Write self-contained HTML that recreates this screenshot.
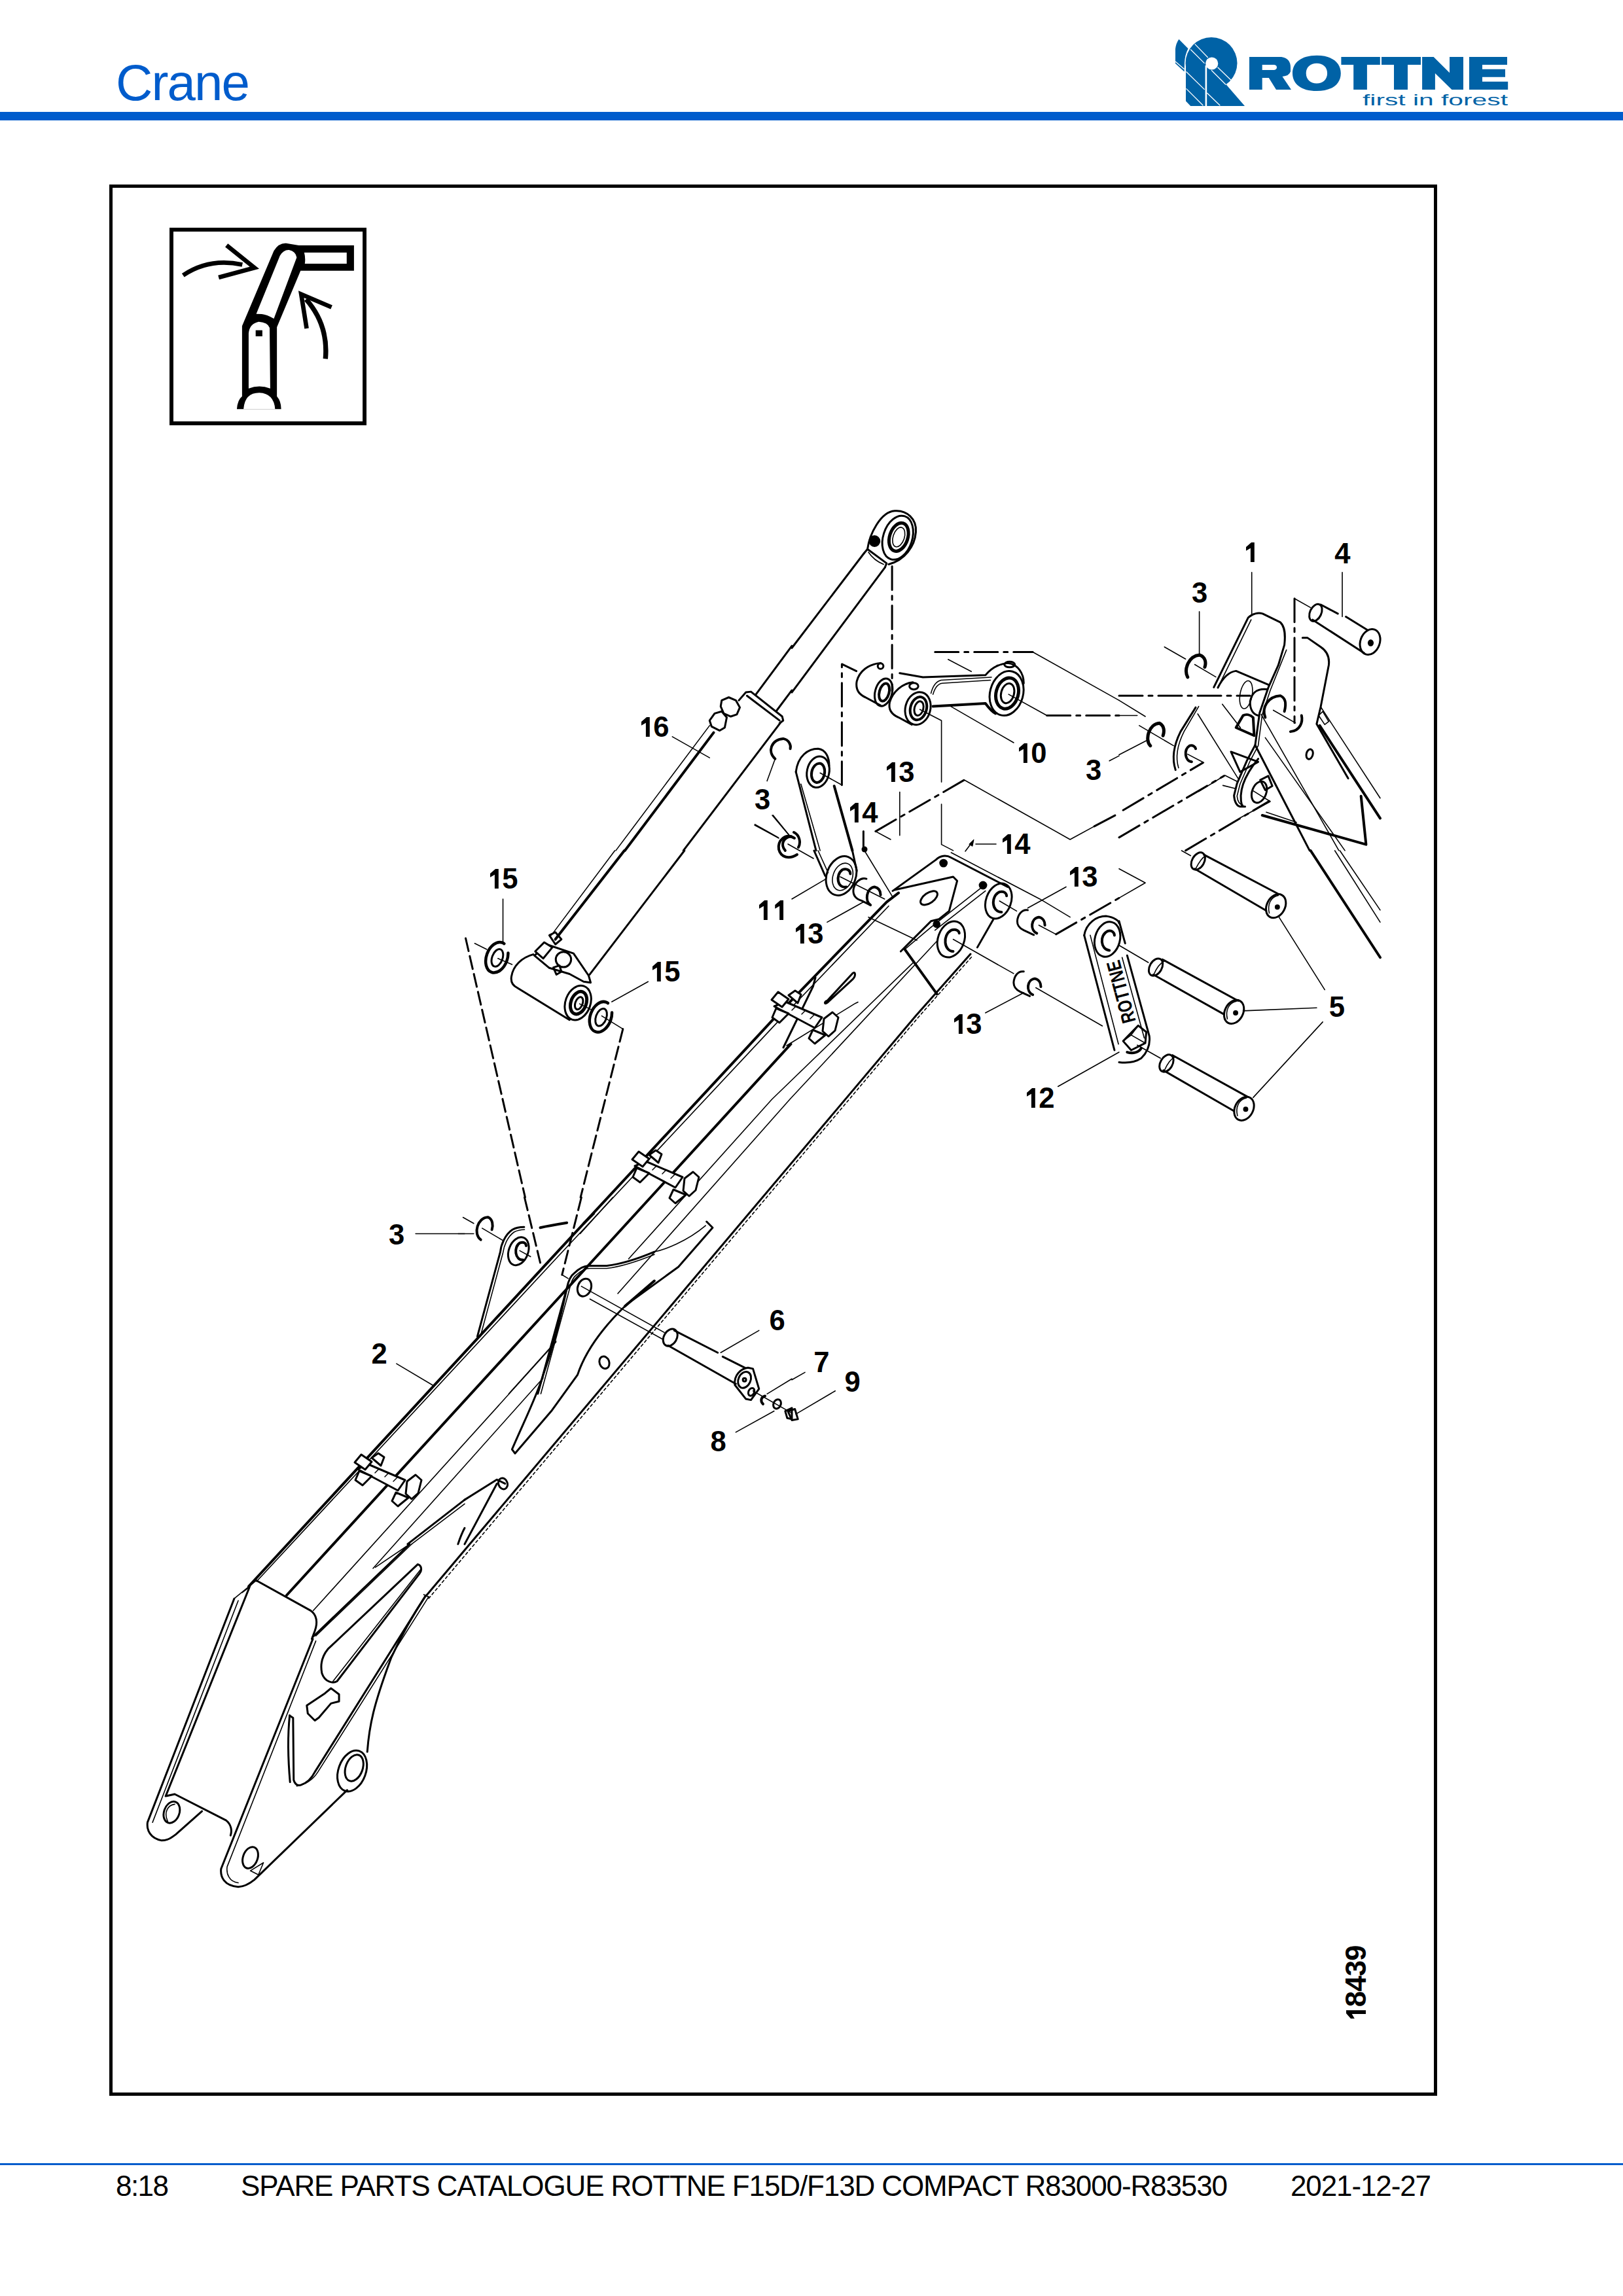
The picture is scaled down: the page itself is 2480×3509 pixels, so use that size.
<!DOCTYPE html>
<html><head><meta charset="utf-8">
<style>
html,body{margin:0;padding:0;background:#fff;}
body{width:2480px;height:3509px;overflow:hidden;position:relative;}
svg{position:absolute;left:0;top:0;}
#drawing *{vector-effect:non-scaling-stroke;}
.t{stroke-width:1.6px}.k{stroke-width:4px}.d{stroke-dasharray:36 9 6 9}.ds{stroke-dasharray:20 8}
</style></head>
<body>
<svg width="2480" height="3509" viewBox="0 0 2480 3509" font-family="Liberation Sans, sans-serif">
<defs>
<g id="clamp" fill="#fff" stroke="#000" stroke-width="3" stroke-linejoin="round">
<path d="M-30,-25 L26,-1 L15,15 L-47,-18 Z"/>
<path d="M-51,-28 L-41,-40 L-25,-29 L-35,-17 Z"/>
<path d="M-25,-35 L-15,-42 L-6,-36 L-11,-23 Z"/>
<path d="M-50,-1 L-44,-15 L-25,-7 L-39,7 Z"/>
<path d="M29,1 L42,-9 L51,-1 L46,19 L36,28 L27,20 Z"/>
<path d="M6,31 L12,18 L31,26 L15,39 Z"/>
<path d="M-20,-12 L-14,-18 M-5,-6 L1,-12 M8,1 L14,-5" stroke-width="1.5"/>
</g>
</defs>
<!-- header -->
<text x="177" y="153" font-size="78" fill="#005ccc" textLength="205" lengthAdjust="spacing">Crane</text>
<rect x="0" y="171" width="2480" height="13" fill="#005ccc"/>
<!-- logo -->
<g id="logo" fill="#0062a6">
<path d="M1801.4,60 L1815.5,74.3 Q1810.5,84 1810,96 L1809.6,109.5 L1796,96.9 L1796,74.8 Q1797,66 1801.4,60 Z"/>
<circle cx="1851" cy="96.5" r="39.5"/>
<path d="M1812,96 L1812,154.6 L1819.2,162 L1902,162 L1873.2,128.7 L1851,96 Z"/>
<circle cx="1851.7" cy="97" r="9.6" fill="#fff"/>
<rect x="1841.6" y="100" width="2.6" height="63" fill="#fff"/>
<g stroke="#fff" stroke-width="1.3">
<line x1="1825.8" y1="67.4" x2="1845.8" y2="88"/>
<line x1="1819.2" y1="75.5" x2="1840.6" y2="96.9"/>
<line x1="1860.6" y1="102.8" x2="1881.3" y2="122.8"/>
<line x1="1851" y1="107.3" x2="1873.2" y2="129.5"/>
<line x1="1796" y1="94" x2="1809.6" y2="105.8"/>
<line x1="1812.5" y1="109.5" x2="1840.6" y2="136.9"/>
<line x1="1812.5" y1="135.4" x2="1838.4" y2="161.3"/>
<line x1="1844.3" y1="142" x2="1864.3" y2="161.3"/>
</g>
<path d="M1909,87 L1958,87 Q1972,89 1972,103 L1972,109.3 Q1970,116 1959.5,117 L1973,137 L1950,137 L1938.8,119 L1928.7,119 L1928.7,137 L1909,137 Z M1928.7,99 L1928.7,107.1 L1947,107.1 Q1951,106 1951,103 Q1951,99.5 1947,99 Z" fill-rule="evenodd"/>
<path d="M2012,84.7 C2036,84.7 2048.8,96 2048.8,111.9 C2048.8,128 2036,139 2012,139 C1988,139 1975,128 1975,111.9 C1975,96 1988,84.7 2012,84.7 Z M2012,96.7 C2003,96.7 1995.7,102 1995.7,112 C1995.7,122 2003,127.4 2012,127.4 C2021,127.4 2028.1,122 2028.1,112 C2028.1,102 2021,96.7 2012,96.7 Z" fill-rule="evenodd"/>
<path d="M2049.4,87 L2108.8,87 L2108.8,99 L2088.9,99 L2088.9,137 L2068.2,137 L2068.2,99 L2049.4,99 Z"/>
<path d="M2111,87 L2171,87 L2171,99 L2151,99 L2151,137 L2130,137 L2130,99 L2111,99 Z"/>
<path d="M2173.1,87 L2190.6,87 L2215,111.2 L2215,87 L2236,87 L2236,137 L2218.4,137 L2192.9,111.9 L2192.9,137 L2173.1,137 Z"/>
<path d="M2245,87 L2303,87 L2303,99 L2265,99 L2265,105.8 L2300,105.8 L2300,117.7 L2265,117.7 L2265,124.8 L2304.2,124.8 L2304.2,137 L2245,137 Z"/>
<text x="2082" y="161" font-size="24" textLength="222" lengthAdjust="spacingAndGlyphs">first in forest</text>
</g>
<!-- frame -->
<rect x="169.5" y="284.5" width="2024" height="2916" fill="none" stroke="#000" stroke-width="5"/>
<!-- icon -->
<g id="icon" transform="translate(259,348) scale(0.18546)">
<rect x="16" y="16" width="1591" height="1596" fill="none" stroke="#000" stroke-width="32"/>
<path d="M598,810 L860,190 Q900,125 960,128 L1065,145 L1520,145 L1520,355 L1080,355 L885,820 L885,1390 Q920,1430 920,1495 L555,1495 Q560,1420 598,1390 Z" fill="#000"/>
<path d="M715,710 L910,230 Q940,180 985,183 Q1040,195 1048,245 L860,750 Q800,715 760,712 Z" fill="#fff"/>
<path d="M1110,205 L1460,205 L1460,297 L1115,297 Q1122,250 1110,205 Z" fill="#fff"/>
<path d="M652,870 Q660,790 735,775 Q810,780 825,825 L830,1325 Q740,1290 652,1325 Z" fill="#fff"/>
<path d="M610,1495 Q620,1360 740,1360 Q860,1365 870,1495 Z" fill="#fff"/>
<rect x="710" y="845" width="55" height="50" fill="#000"/>
<path d="M112,392 Q330,245 600,305" fill="none" stroke="#000" stroke-width="36"/>
<path d="M470,145 L700,330 L405,410" fill="none" stroke="#000" stroke-width="36" stroke-linejoin="miter"/>
<path d="M1285,1080 Q1310,800 1125,590" fill="none" stroke="#000" stroke-width="40"/>
<path d="M1130,830 L1085,548 L1335,655" fill="none" stroke="#000" stroke-width="36" stroke-linejoin="miter"/>
</g>
<!-- drawing -->
<g id="drawing" fill="none" stroke="#000" stroke-width="3" stroke-linecap="round" stroke-linejoin="round">
<!-- R1C2 -->
<g transform="translate(1210,770) scale(0.30807)">
<path d="M0,715 L358,245"/><path d="M0,935 L462,315"/>
<path d="M358,245 L375,225 L470,295 L462,315"/>
<path class="t" d="M380,240 C400,270 430,290 455,300"/>
<path d="M375,225 C385,150 440,40 510,35 C570,30 620,75 615,140 C610,210 560,280 480,300"/>
<ellipse cx="525" cy="168" rx="72" ry="112" transform="rotate(18 525 168)"/>
<ellipse cx="530" cy="165" rx="45" ry="72" transform="rotate(18 530 165)" class="k" style="stroke-width:5px"/>
<ellipse cx="530" cy="165" rx="28" ry="50" transform="rotate(18 530 165)" class="t"/>
<circle cx="410" cy="185" r="24" fill="#000"/>
<path class="d" d="M497,310 L497,930"/>
<path d="M440,790 C380,795 335,830 322,880 C315,920 330,945 365,960 L440,1000"/>
<ellipse cx="455" cy="935" rx="42" ry="70" transform="rotate(15 455 935)"/>
<ellipse cx="458" cy="935" rx="24" ry="45" transform="rotate(15 458 935)" class="k"/>
<circle cx="440" cy="805" r="14"/>
<path d="M600,885 C550,890 500,930 485,985 C478,1020 495,1045 530,1060 L595,1095"/>
<ellipse cx="625" cy="1015" rx="62" ry="82" transform="rotate(15 625 1015)"/>
<ellipse cx="628" cy="1015" rx="40" ry="58" transform="rotate(15 628 1015)" class="k"/>
<ellipse cx="630" cy="1015" rx="22" ry="36" transform="rotate(15 630 1015)"/>
<ellipse cx="605" cy="905" rx="22" ry="16"/>
<path d="M535,840 L650,860 L960,850 C985,820 1020,795 1070,790 C1120,795 1150,840 1150,890"/>
<path class="t" d="M690,940 C700,900 720,880 740,875 L990,860"/><path class="t" d="M700,945 C710,910 725,893 745,890 L985,875"/>
<path class="k" d="M700,1005 L960,990 C975,1010 990,1030 1010,1040"/>
<ellipse cx="1065" cy="940" rx="82" ry="112" transform="rotate(15 1065 940)"/>
<ellipse cx="1068" cy="940" rx="55" ry="78" transform="rotate(15 1068 940)" class="k" style="stroke-width:5px"/>
<ellipse cx="1070" cy="940" rx="32" ry="50" transform="rotate(15 1070 940)"/>
<ellipse cx="1080" cy="797" rx="26" ry="14"/>
<path class="d" d="M710,735 L1195,735"/><path class="t" d="M1195,735 L1623,975"/>
<path class="t" d="M775,772 L890,832"/>
<path class="t" d="M1075,945 L1265,1050"/><path class="d" d="M1265,1050 L1623,1050"/>
<path class="t" d="M635,1020 L742,1075 L742,1380"/><path class="t" d="M742,1490 L742,1690 L800,1720"/>
<path class="d" d="M248,1395 L248,795 L320,830"/><path class="t" d="M248,1395 L140,1335"/>
<path class="d" d="M415,1625 L855,1370"/><path class="t" d="M855,1370 L1380,1665 L1500,1600"/><path class="d" d="M1500,1600 L1623,1535"/>
<path class="t" d="M415,1625 L490,1665"/>
<path class="t" d="M780,1000 L1100,1185"/>
<path class="t" d="M535,1430 L535,1645"/>
<path class="t" d="M1575,1275 L1623,1250"/>
<path class="d" d="M355,1625 L355,1720"/>
<path d="M20,1330 C30,1250 80,1215 130,1215 C170,1220 185,1260 185,1300"/>
<ellipse cx="130" cy="1330" rx="55" ry="78" transform="rotate(12 130 1330)"/>
<ellipse cx="130" cy="1335" rx="32" ry="48" transform="rotate(12 130 1335)" class="k"/>
<path d="M20,1330 L120,1720"/><path class="t" d="M45,1390 L140,1720"/>
<path class="k" d="M210,1400 L300,1720"/>
</g>
<!-- R1C3 -->
<g transform="translate(1710,770) scale(0.30807)">
<path d="M280,1320 C260,1260 275,1190 305,1130 L380,1010"/><path class="t" d="M295,1310 C278,1255 292,1190 322,1130 L395,1005"/>
<path class="k" d="M360,1280 C325,1275 320,1220 350,1200 C365,1195 378,1205 380,1215"/>

<path class="t" d="M658,340 L658,555"/><path class="t" d="M1107,340 L1107,560"/><path class="t" d="M398,535 L398,755"/>
<path d="M470,910 L640,565 C660,545 690,538 712,545 L800,588 C822,610 826,645 820,700 L790,800 L740,912 L697,1037 L675,1197 L635,1272 L585,1387 L570,1447 C572,1480 585,1500 600,1502 L625,1502"/>
<path class="t" d="M490,912 L655,575"/><path class="t" d="M830,725 L750,925 L710,1045 L690,1200 L650,1275 L600,1390 L585,1450 C588,1478 598,1492 615,1495"/>
<path d="M490,912 C515,862 545,834 580,829 L740,897"/>
<ellipse cx="630" cy="947" rx="30" ry="70" transform="rotate(10 630 947)" class="t"/>
<path d="M650,980 C660,930 690,915 735,920 M650,980 C648,1020 665,1045 690,1050"/>
<path d="M580,1110 L615,1050 C630,1042 650,1045 665,1060 L670,1150 Z" class="k"/>
<path d="M555,1230 L690,1280 L600,1330 Z"/>
<path d="M910,665 L935,665 L1000,710 C1030,730 1045,760 1040,800 L1000,1007 L980,1092 L1136,1362"/>
<path class="t" d="M1000,1007 L1295,1460"/><path class="k" d="M995,1100 L1295,1560"/>
<path class="t" d="M1010,1030 L1040,1080 L1020,1095 L990,1050 Z"/>
<path d="M675,1197 L945,1720"/><path class="t" d="M705,1045 L1090,1720"/><path class="t" d="M725,1160 L1120,1720"/>
<path class="k" d="M710,1545 L1225,1690 L1200,1450"/><path class="t" d="M730,1530 L880,1580"/>
<path d="M610,1500 C590,1430 620,1350 690,1265"/>
<ellipse cx="695" cy="1430" rx="35" ry="55" transform="rotate(20 695 1430)"/>
<path d="M700,1370 L740,1350 L760,1400 L725,1420 Z"/>
<path class="k" style="stroke-width:5px" d="M340,860 C320,820 345,755 400,750 C430,760 432,790 425,810"/>
<path class="k" d="M725,1060 C705,1010 740,955 800,952 C830,965 828,1000 820,1030"/>
<path class="k" d="M850,1130 C900,1125 912,1080 905,1050"/>
<path class="k" style="stroke-width:5px" d="M155,1200 C125,1170 150,1090 200,1088 C225,1100 225,1130 218,1150"/>
<path class="d" d="M0,952 L650,952"/><path class="d" d="M870,470 L870,1087"/><path class="t" d="M870,470 L950,515"/>
<path class="t" d="M225,710 L330,770"/><path class="t" d="M375,797 L480,859"/><path class="t" d="M765,1024 L875,1087"/>
<path class="t" d="M0,975 L130,1055"/><path class="t" d="M0,1050 L90,1050"/><path class="t" d="M100,1100 L270,1200"/>
<path class="t" d="M390,1042 L590,1362"/><path class="t" d="M512,994 L602,1111"/>
<path class="t" d="M0,1245 L135,1175"/><path class="t" d="M340,1242 L420,1284"/>
<path class="t" d="M395,1427 L525,1347 L585,1377"/><path class="t" d="M515,1397 L575,1412"/>
<path class="d" d="M20,1520 L415,1285"/><path class="d" d="M0,1655 L520,1350"/><path class="d" d="M330,1720 L745,1475"/>
<path class="t" d="M600,1558 L750,1477 L665,1424"/>
<ellipse cx="945" cy="1242" rx="16" ry="25" transform="rotate(15 945 1242)"/>
<path d="M1000,500 L1085,545 M1125,560 L1230,625 M960,575 L1215,740"/>
<ellipse cx="975" cy="540" rx="28" ry="45" transform="rotate(25 975 540)"/>
<ellipse cx="1245" cy="685" rx="48" ry="65" transform="rotate(20 1245 685)"/>
<ellipse cx="1248" cy="690" rx="10" ry="12" fill="#000"/>
</g>
<!-- R2C1 -->
<g transform="translate(710,1300) scale(0.30807)">
<path class="t" d="M745,0 L430,420"/><path class="k" d="M792,0 L450,440"/>
<path d="M1090,0 L620,615"/>
<path d="M340,515 C285,530 240,570 232,625 C228,650 236,668 260,680 L520,840"/>
<ellipse cx="562" cy="755" rx="62" ry="88" transform="rotate(20 562 755)"/>
<ellipse cx="565" cy="755" rx="38" ry="58" transform="rotate(20 565 755)" class="k" style="stroke-width:5px"/>
<ellipse cx="567" cy="757" rx="18" ry="32" transform="rotate(20 567 757)"/>
<path d="M345,520 L420,470 L540,510 L615,620 L625,655 L590,650 L520,612 L420,582 Z" fill="#fff"/>
<circle cx="490" cy="540" r="38"/>
<path d="M350,500 L395,455 L435,480 L390,535 Z" fill="#fff"/><path d="M420,420 L450,405 L480,440 L450,465 Z"/><path d="M440,580 L470,570 L480,600 L455,615 Z"/>
<ellipse cx="160" cy="530" rx="52" ry="78" transform="rotate(20 160 530)" class="k" style="stroke-width:4.5px;stroke-dasharray:112 16;stroke-dashoffset:14"/>
<ellipse cx="162" cy="532" rx="26" ry="45" transform="rotate(20 162 532)"/>
<ellipse cx="675" cy="825" rx="52" ry="78" transform="rotate(20 675 825)" class="k" style="stroke-width:4.5px;stroke-dasharray:112 16;stroke-dashoffset:14"/>
<ellipse cx="677" cy="827" rx="26" ry="45" transform="rotate(20 677 827)"/>
<path class="t" d="M50,460 L110,490"/><path class="t" d="M165,535 L235,565"/><path class="t" d="M570,760 L630,790"/><path class="t" d="M680,820 L785,885"/>
<path class="t" d="M190,240 L190,455"/><path class="t" d="M910,650 L730,750"/>
<path class="ds" d="M5,435 L300,1720"/><path class="ds" d="M785,885 L575,1720"/>




</g>


<!-- R2C2 -->
<g transform="translate(1210,1300) scale(0.30807)">
<ellipse cx="245" cy="125" rx="72" ry="100" transform="rotate(20 245 125)"/>
<ellipse cx="252" cy="130" rx="48" ry="70" transform="rotate(20 252 130)" class="t"/>
<path class="k" d="M270,180 C225,190 215,120 250,95 C275,85 290,100 290,115"/>
<path d="M110,0 L165,125"/><path class="t" d="M130,0 L180,110"/><path d="M300,0 L322,100"/>
<path d="M370,140 C340,130 310,160 305,195 C303,222 320,240 345,248 L385,268"/>
<path class="k" d="M390,270 C360,250 370,185 410,180 C432,185 440,200 440,220"/>
<path class="t" d="M0,240 L170,140"/><path class="t" d="M175,355 L355,255"/>
<path class="t" d="M360,0 L500,230"/>
<path class="t" d="M240,130 L460,240"/>
<path d="M500,200 L715,45 C735,25 765,20 790,35 L1070,180"/><path class="t" d="M790,10 L1230,240 L1380,330"/>
<path d="M510,195 L800,130 L820,150 L780,300 L730,340 L690,350 L540,500"/>
<ellipse cx="680" cy="235" rx="48" ry="25" transform="rotate(-35 680 235)"/>
<circle cx="752" cy="62" r="16" fill="#000"/><circle cx="948" cy="172" r="16" fill="#000"/><circle cx="718" cy="365" r="14" fill="#000"/>
<ellipse cx="790" cy="440" rx="65" ry="92" transform="rotate(20 790 440)"/>
<path class="k" d="M800,500 C755,500 745,420 790,395 C815,385 830,400 830,410"/>
<ellipse cx="1025" cy="250" rx="62" ry="90" transform="rotate(20 1025 250)"/>
<path class="k" d="M1040,305 C990,305 985,225 1030,205 C1055,198 1065,215 1065,225"/>
<path class="t" d="M690,380 L945,180"/><path class="t" d="M710,395 L960,200"/>
<path d="M920,480 L1000,340"/>

<path class="t" d="M380,330 L620,445"/>
<path class="k" d="M560,490 L720,712"/><path class="t" d="M560,490 L690,380"/>


<path d="M175,745 L300,610 C315,595 320,620 300,640 L175,755 C160,765 160,750 175,745 Z" transform="rotate(0)"/>

<path d="M1170,295 C1140,290 1120,320 1118,350 C1117,372 1130,385 1150,395 L1200,418"/>
<path class="k" d="M1215,410 C1180,395 1185,335 1225,330 C1248,335 1255,355 1255,370"/>
<path d="M1150,600 C1120,595 1102,625 1100,655 C1100,677 1112,690 1132,700 L1180,722"/>
<path class="k" d="M1195,715 C1160,700 1165,640 1205,635 C1228,640 1235,660 1235,675"/>
<path class="t" d="M800,440 L1100,610"/><path class="t" d="M1210,680 L1540,870"/>
<path class="t" d="M1030,250 L1115,300"/><path class="t" d="M1225,370 L1310,415"/><path class="d" d="M1310,415 L1623,235"/>
<path class="t" d="M1170,285 L1360,180"/><path class="t" d="M960,805 L1150,705"/><path class="t" d="M1320,1170 L1623,1000"/>
<path d="M1450,420 C1460,360 1510,325 1560,325 C1600,330 1623,350 1623,360"/>
<path d="M1450,420 L1600,990"/><path class="t" d="M1480,420 L1620,960"/>
<ellipse cx="1565" cy="440" rx="62" ry="88" transform="rotate(15 1565 440)"/>
<path class="k" d="M1575,495 C1530,490 1525,420 1565,400 C1590,392 1600,410 1600,420"/>
</g>
<!-- R2C3 -->
<g transform="translate(1710,1300) scale(0.30807)">
<path d="M420,20 L790,215 M375,90 L730,298"/>
<ellipse cx="392" cy="52" rx="30" ry="46" transform="rotate(30 392 52)"/>
<path class="t" d="M380,90 C395,60 410,35 430,25"/>
<ellipse cx="778" cy="275" rx="45" ry="62" transform="rotate(28 778 275)"/>
<path class="t" d="M745,310 C735,270 750,230 790,222"/>
<circle cx="785" cy="280" r="8" fill="#000"/>
<path d="M215,540 L590,745 M170,615 L520,812"/>
<ellipse cx="182" cy="578" rx="30" ry="46" transform="rotate(30 182 578)"/>
<path class="t" d="M172,615 C185,585 200,560 225,548"/>
<ellipse cx="570" cy="800" rx="45" ry="62" transform="rotate(28 570 800)"/>
<path class="t" d="M537,835 C527,795 542,755 582,747"/>
<circle cx="578" cy="805" r="8" fill="#000"/>
<path d="M265,1015 L635,1220 M220,1090 L570,1292"/>
<ellipse cx="235" cy="1055" rx="30" ry="46" transform="rotate(30 235 1055)"/>
<path class="t" d="M225,1090 C238,1060 252,1035 277,1023"/>
<ellipse cx="620" cy="1280" rx="45" ry="62" transform="rotate(28 620 1280)"/>
<path class="t" d="M587,1315 C577,1275 592,1235 632,1227"/>
<circle cx="628" cy="1283" r="8" fill="#000"/>
<path class="t" d="M790,325 L1020,690"/><path class="t" d="M615,795 L980,780"/><path class="t" d="M665,1225 L1010,850"/>
<path d="M0,350 L30,460"/><path d="M40,520 L150,920 C155,960 140,1000 110,1030 C80,1050 40,1055 0,1050"/>
<path class="t" d="M15,530 L125,930"/>
<path d="M20,945 L95,868 L135,900 L130,955 L60,990 Z"/><path class="t" d="M20,945 L60,990 M95,868 L60,915 L20,945 M60,915 L130,955"/>
<path class="k" d="M40,1000 C70,1010 100,1000 110,980"/>
<path class="t" d="M0,470 L145,555"/><path class="t" d="M90,965 L205,1030"/><path class="t" d="M310,0 L355,25"/>
<path class="t" d="M0,90 L130,160 L0,235"/>
<path class="k" d="M950,0 L1295,530"/><path class="t" d="M1070,0 L1295,355"/><path class="t" d="M1095,0 L1295,295"/>

</g>
<text transform="translate(1713,1516) rotate(-105)" text-anchor="middle" dominant-baseline="central" font-size="30" font-weight="bold" fill="#000" stroke="none" textLength="98" lengthAdjust="spacingAndGlyphs">ROTTNE</text>
<!-- R3C1 -->
<g transform="translate(710,1830) scale(0.30807)">
<path d="M63,690 L177,270 C180,235 200,185 237,160 C255,150 275,147 295,147"/>
<path class="t" d="M78,690 L190,275 C195,240 212,195 245,172 C262,163 280,160 297,160"/>
<ellipse cx="267" cy="267" rx="48" ry="72" transform="rotate(20 267 267)"/>
<path class="k" d="M290,310 C250,315 240,245 275,225 C295,218 305,230 305,240"/>


<path d="M363,974 L507,450 C515,410 530,385 545,375 C570,350 590,340 615,339 L705,339 C790,330 870,300 941,270"/>
<path class="t" d="M378,974 L520,455 C528,415 543,392 556,383 C578,362 598,352 620,352 L705,352 C790,342 870,312 941,283"/>
<ellipse cx="594" cy="447" rx="33" ry="45" transform="rotate(20 594 447)"/>
<path class="t" d="M579,441 L990,670"/><path class="t" d="M621,504 L985,705"/>
<path class="k" d="M795,540 L941,414"/>

<path class="t" d="M219,974 L453,714"/>
<ellipse cx="693" cy="819" rx="24" ry="31" transform="rotate(-20 693 819)"/>
<path class="ds" d="M297,0 L375,324"/><path class="ds" d="M579,0 L483,384"/><path class="t" d="M483,384 L513,402"/>
<path class="k" d="M375,150 C420,140 470,132 507,126"/>
<path class="t" d="M573,180 L735,0"/><path class="k" d="M590,130 L640,80"/>
<path class="k" d="M80,210 C40,180 65,100 115,98 C140,108 142,140 135,160"/>
<path class="t" d="M-32,180 L45,180"/><path class="t" d="M-8,99 L45,129"/><path class="t" d="M87,153 L189,213"/><path class="t" d="M273,264 L327,294"/>
<path d="M1200,120 L1230,150 L1060,345 L805,530 C690,640 600,760 560,880 L430,1060 L250,1270 L235,1250 C300,1100 360,980 390,880 C440,740 470,620 507,450"/>
<path class="t" d="M1195,140 C1100,220 990,260 940,270"/>



<path d="M0,1500 L160,1400 L200,1420"/><path d="M0,1720 L160,1420"/>
<ellipse cx="190" cy="1420" rx="22" ry="28" transform="rotate(-20 190 1420)"/>
<path d="M1040,660 L1255,770 M1280,790 L1390,845 M1010,735 L1345,925"/>
<ellipse cx="1020" cy="695" rx="32" ry="45" transform="rotate(30 1020 695)"/>
<path d="M1340,930 C1335,880 1370,850 1405,845 L1430,850 L1460,950 L1420,1005 L1395,1000 Z"/>
<ellipse cx="1388" cy="905" rx="30" ry="42" transform="rotate(25 1388 905)"/><circle cx="1388" cy="905" r="8"/>
<ellipse cx="1422" cy="965" rx="14" ry="20" transform="rotate(25 1422 965)"/>
<path class="t" d="M1270,770 L1460,660"/><path class="t" d="M1345,1165 L1535,1060"/><path class="t" d="M1500,975 L1623,900"/>
<path class="k" d="M1480,1025 C1465,1010 1470,990 1490,985"/>
<ellipse cx="1550" cy="1025" rx="18" ry="24" transform="rotate(25 1550 1025)"/>
<path d="M1590,1060 L1623,1045 L1623,1100 L1600,1095 Z"/>
<path class="t" d="M1430,960 L1623,1070"/>
</g>
<!-- R3C0 -->
<g transform="translate(210,1830) scale(0.30807)">
<path class="t" d="M1380,180 L1623,180"/><path class="t" d="M1285,825 L1470,935"/>



<path d="M1340,1720 L1623,1500"/><path class="t" d="M1360,1720 L1623,1520"/>
<path d="M1590,1720 C1600,1690 1612,1660 1623,1640"/>
</g>

<!-- R3C2 -->
<g transform="translate(1210,1830) scale(0.30807)">
<path class="t" d="M0,905 L65,868"/><path class="t" d="M20,1075 L215,960"/>
<path d="M-20,1060 L15,1050 L30,1100 L0,1105 Z"/>
</g>
<!-- R4C0 -->
<g transform="translate(210,2360) scale(0.30807)">
<path d="M590,180 L860,330 C890,350 895,390 880,430 L865,470"/>
<path d="M555,215 L140,1250 L185,1240 L440,1370 C465,1390 470,1420 462,1445"/>
<path d="M480,270 L50,1380 C45,1420 65,1460 120,1470 C150,1470 170,1455 190,1440 L320,1325"/>
<path class="t" d="M500,280 L75,1380"/><path class="t" d="M480,270 L590,180"/><path class="t" d="M520,240 L560,210"/>
<ellipse cx="170" cy="1330" rx="38" ry="55" transform="rotate(20 170 1330)"/>
<path class="t" d="M150,1375 C130,1330 150,1295 185,1290"/>
<path d="M870,470 L415,1610 C410,1650 430,1695 500,1700 C530,1700 555,1685 580,1665 L1040,1220"/>
<path class="t" d="M885,480 L445,1600 C440,1635 455,1675 500,1680"/>
<ellipse cx="1065" cy="1125" rx="68" ry="105" transform="rotate(20 1065 1125)"/>
<ellipse cx="1075" cy="1110" rx="42" ry="68" transform="rotate(20 1075 1110)"/>
<path d="M1140,1030 C1150,900 1170,800 1260,560 C1320,430 1380,330 1430,255"/>
<ellipse cx="560" cy="1555" rx="36" ry="55" transform="rotate(20 560 1555)"/>
<path d="M560,1620 L625,1580 L600,1640 Z" class="t"/>
<path d="M755,850 L772,862 L775,1170 C780,1190 795,1200 810,1195 C840,1185 865,1160 880,1130 L1430,255"/>
<path class="t" d="M790,1200 C830,1195 870,1170 895,1130 L1445,260"/>
<path d="M755,850 C745,950 748,1080 757,1180"/>
<path d="M1390,100 C1410,105 1412,130 1400,145 L990,680 C970,692 930,685 915,640 C905,590 920,550 945,520 Z"/>
<path class="t" d="M970,680 L1405,125"/>
<path d="M840,800 L930,740 L960,715 L1000,745 L1000,780 L960,790 L900,860 L880,875 L845,840 Z"/>



<path d="M870,460 L1350,0"/><path class="t" d="M885,455 L1360,0"/>
<path class="t" d="M1180,115 L1350,0"/>

<path class="t" d="M1420,250 L1445,262"/>
</g>
<!-- misc source-coord -->
<g>
<path d="M1197,1601 L1242.4,1507.5 L1246,1494"/>
<path class="t" d="M1202,1598 L1307,1533.4 L1311,1531.6"/>

<path class="t" d="M960.5,1924 L1179.6,1680 L1396,1470.6"/>
<path class="t" d="M944,1977 L1207,1680 L1431,1439"/>

<path d="M651,2439 L1400,1551.8 L1483,1458"/>
<path class="t" d="M655,2443 L1403,1555 L1486,1461" style="stroke-dasharray:4 4"/>

<path class="k" d="M380,2424.5 L856,1908.6 L1187.5,1551.4 L1354.8,1378.6 L1373,1364.7"/>
<path class="t" d="M392,2417 L852,1921 L1190.6,1559.4 L1357.9,1384.7"/>
<path class="k" d="M438,2438 L1208.4,1595.7"/>
<path class="t" d="M478.6,2461.5 L849.6,2051"/>
<path class="t" d="M570,2397 L830,2106"/>

<path class="t" d="M1491,1290 L1522,1290"/><path class="t" d="M1475,1301 L1487,1285"/><path d="M1481,1290 L1488,1283 L1486,1293 Z" fill="#000" stroke-width="1"/>
<circle cx="1321" cy="1298" r="4.5" fill="#000" stroke="none"/>


<path class="k" d="M1214,1281 C1200,1272 1188,1285 1190,1298 C1193,1310 1205,1314 1218,1306"/>
<path class="k" d="M1213,1272 C1222,1276 1224,1288 1220,1295"/>
<path class="t" d="M1180,1246 L1207,1278"/><path class="t" d="M1153,1261 L1190,1281"/><path class="t" d="M1204,1290 L1243,1312"/>

</g>
<!-- R1C1 -->
<g transform="translate(710,770) scale(0.30807)">
<path class="t" d="M750,1720 L1215,1100"/>
<path class="k" d="M795,1720 L1235,1135"/>
<path d="M1085,1720 L1565,1088"/>
<path d="M1360,975 L1395,935 L1420,932 L1575,1055 L1580,1075 L1562,1088"/>
<path d="M1400,952 L1562,1075"/>
<path d="M1445,945 L1623,705"/><path d="M1548,1025 L1623,925"/>
<path d="M1275,975 L1310,960 L1345,975 L1365,1010 L1350,1045 L1320,1055 L1285,1040 L1270,1005 Z"/>
<path d="M1215,1075 L1240,1040 L1275,1030 L1300,1060 L1290,1110 L1265,1125 L1225,1105 Z"/>
<path class="t" d="M1030,1155 L1215,1260"/>
<path class="k" d="M1540,1265 C1500,1230 1520,1170 1580,1165 C1610,1170 1620,1200 1615,1215"/>
<path class="t" d="M1500,1375 L1540,1265"/>
<path class="k" d="M1590,1720 C1565,1690 1580,1655 1620,1650"/>
<path class="t" d="M1530,1545 L1615,1650"/><path class="t" d="M1440,1590 L1555,1655"/>
</g>
<use href="#clamp" x="1017" y="1800"/>
<use href="#clamp" x="1230" y="1556"/>
<use href="#clamp" x="593" y="2263"/>
</g>
<!-- labels -->
<g id="labels" font-size="43.6" font-weight="bold" fill="#000">
<path transform="translate(1898.08,859) scale(0.02129,-0.02129)" d="M658,1409 L879,1409 L879,0 L602,0 L602,996 L278,808 L278,1081 Z"/>
<text x="2039.34" y="861">4</text>
<text x="1821.00" y="921">3</text>
<path transform="translate(974.08,1126) scale(0.02129,-0.02129)" d="M658,1409 L879,1409 L879,0 L602,0 L602,996 L278,808 L278,1081 Z"/>
<text x="998.33" y="1126">6</text>
<path transform="translate(1551.08,1166) scale(0.02129,-0.02129)" d="M658,1409 L879,1409 L879,0 L602,0 L602,996 L278,808 L278,1081 Z"/>
<text x="1575.33" y="1166">0</text>
<text x="1659.00" y="1192">3</text>
<path transform="translate(1349.08,1195) scale(0.02129,-0.02129)" d="M658,1409 L879,1409 L879,0 L602,0 L602,996 L278,808 L278,1081 Z"/>
<text x="1373.33" y="1195">3</text>
<text x="1153.00" y="1237">3</text>
<path transform="translate(1293.08,1257) scale(0.02129,-0.02129)" d="M658,1409 L879,1409 L879,0 L602,0 L602,996 L278,808 L278,1081 Z"/>
<text x="1317.33" y="1257">4</text>
<path transform="translate(1526.08,1305) scale(0.02129,-0.02129)" d="M658,1409 L879,1409 L879,0 L602,0 L602,996 L278,808 L278,1081 Z"/>
<text x="1550.33" y="1305">4</text>
<path transform="translate(743.08,1358) scale(0.02129,-0.02129)" d="M658,1409 L879,1409 L879,0 L602,0 L602,996 L278,808 L278,1081 Z"/>
<text x="767.33" y="1358">5</text>
<path transform="translate(1629.08,1355) scale(0.02129,-0.02129)" d="M658,1409 L879,1409 L879,0 L602,0 L602,996 L278,808 L278,1081 Z"/>
<text x="1653.33" y="1355">3</text>
<path transform="translate(1154.08,1406) scale(0.02129,-0.02129)" d="M658,1409 L879,1409 L879,0 L602,0 L602,996 L278,808 L278,1081 Z"/>
<path transform="translate(1178.33,1406) scale(0.02129,-0.02129)" d="M658,1409 L879,1409 L879,0 L602,0 L602,996 L278,808 L278,1081 Z"/>
<path transform="translate(1210.08,1442) scale(0.02129,-0.02129)" d="M658,1409 L879,1409 L879,0 L602,0 L602,996 L278,808 L278,1081 Z"/>
<text x="1234.33" y="1442">3</text>
<path transform="translate(991.08,1500) scale(0.02129,-0.02129)" d="M658,1409 L879,1409 L879,0 L602,0 L602,996 L278,808 L278,1081 Z"/>
<text x="1015.33" y="1500">5</text>
<text x="2030.66" y="1554">5</text>
<path transform="translate(1452.08,1580) scale(0.02129,-0.02129)" d="M658,1409 L879,1409 L879,0 L602,0 L602,996 L278,808 L278,1081 Z"/>
<text x="1476.33" y="1580">3</text>
<path transform="translate(1563.08,1693) scale(0.02129,-0.02129)" d="M658,1409 L879,1409 L879,0 L602,0 L602,996 L278,808 L278,1081 Z"/>
<text x="1587.33" y="1693">2</text>
<text x="594.00" y="1902">3</text>
<text x="1175.40" y="2033">6</text>
<text x="1243.13" y="2097">7</text>
<text x="567.49" y="2084">2</text>
<text x="1290.49" y="2127">9</text>
<text x="1085.62" y="2218">8</text>
<g transform="translate(2087,3090.92) rotate(-90)"><path transform="translate(0.00,0) scale(0.02129,-0.02129)" d="M658,1409 L879,1409 L879,0 L602,0 L602,996 L278,808 L278,1081 Z"/><text x="23.57" y="0">8</text><text x="47.14" y="0">4</text><text x="70.71" y="0">3</text><text x="94.28" y="0">9</text></g>
</g>
<!-- footer -->
<rect x="0" y="3306" width="2480" height="3" fill="#005ccc"/>
<g font-size="44" fill="#000">
<text x="177" y="3356" textLength="81" lengthAdjust="spacing">8:18</text>
<text x="368" y="3356" textLength="1508" lengthAdjust="spacing">SPARE PARTS CATALOGUE ROTTNE F15D/F13D COMPACT R83000-R83530</text>
<text x="1972" y="3356" textLength="215" lengthAdjust="spacing">2021-12-27</text>
</g>
</svg>
</body></html>
